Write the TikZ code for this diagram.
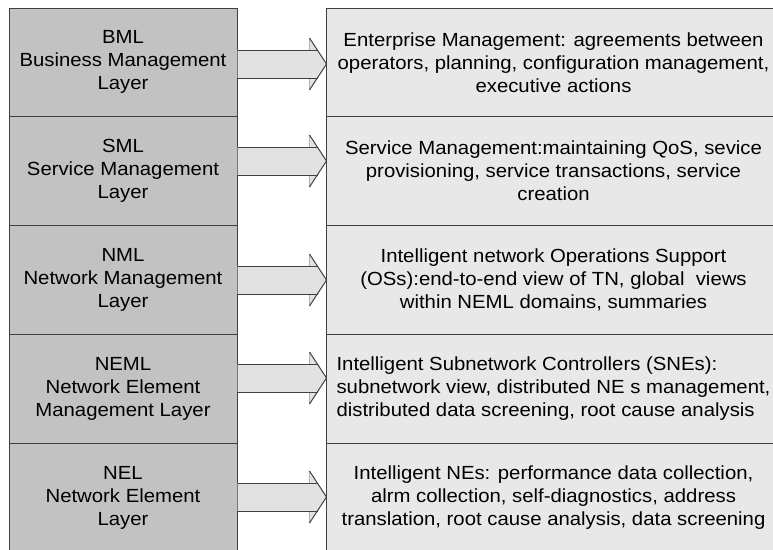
\documentclass[tikz,border=0pt]{standalone}
\usepackage{fontspec}
\setmainfont[FakeStretch=1.07]{Liberation Sans}
\usetikzlibrary{calc}
\definecolor{leftfill}{HTML}{C2C2C2}
\definecolor{rightfill}{HTML}{E8E8E8}
\definecolor{arrowfill}{HTML}{E2E2E2}
\definecolor{edge}{HTML}{404040}
\definecolor{faint}{HTML}{B0B0B0}
\tikzset{
  layerbox/.style={draw=edge, line width=1pt, fill=leftfill, minimum width=228pt, minimum height=108.8pt, inner sep=0pt, align=center, font=\fontsize{19}{23}\selectfont},
  descbox/.style={draw=edge, line width=1pt, fill=rightfill, minimum width=455pt, minimum height=108.8pt, inner sep=0pt, align=center, font=\fontsize{19}{23}\selectfont},
  arrowline/.style={draw=edge, line width=1pt},
}
\newcommand\layerarrow[2]{% #1 row index, #2 y of arrow axis
  \coordinate (s#1) at ($(L#1.east |- 0,#2)$);
  \coordinate (t#1) at ($(R#1.west |- 0,#2)+(1,0)$);
  \fill[arrowfill] ($(s#1)+(0,-14)$) -- ($(t#1)+(-17,-14)$) -- ($(t#1)+(-17,-26)$) -- (t#1) -- ($(t#1)+(-17,26)$) -- ($(t#1)+(-17,14)$) -- ($(s#1)+(0,14)$) -- cycle;
  \draw[faint, line width=0.8pt] ($(t#1)+(-17,-14)$) -- ($(t#1)+(-17,-26)$) ($(t#1)+(-17,14)$) -- ($(t#1)+(-17,26)$);
  \draw[arrowline] ($(s#1)+(0,-14)$) -- ($(t#1)+(-9,-14)$) ($(s#1)+(0,14)$) -- ($(t#1)+(-9,14)$);
  \draw[arrowline] ($(t#1)+(-17,-26)$) -- (t#1) -- ($(t#1)+(-17,26)$);
}
\begin{document}
\begin{tikzpicture}[x=1pt,y=-1pt]
\useasboundingbox (0,0) rectangle (773,549);
\clip (0,0) rectangle (773,549);
\node[layerbox] (L1) at (123,62.4) {BML\\Business Management\\Layer};
\node[layerbox] (L2) at (123,171.2) {SML\\Service Management\\Layer};
\node[layerbox] (L3) at (123,280) {NML\\Network Management\\Layer};
\node[layerbox] (L4) at (123,388.8) {NEML\\Network Element\\Management Layer};
\node[layerbox] (L5) at (123,497.6) {NEL\\Network Element\\Layer};
\node[descbox] (R1) at (553.5,62.4) {Enterprise Management: agreements between\\operators, planning, configuration management,\\executive actions};
\node[descbox] (R2) at (553.5,171.2) {Service Management:maintaining QoS, sevice\\provisioning, service transactions, service\\creation};
\node[descbox] (R3) at (553.5,280) {Intelligent network Operations Support\\(OSs):end-to-end view of TN, global~ views\\within NEML domains, summaries};
\node[descbox, align=left] (R4) at (553.5,388.8) {Intelligent Subnetwork Controllers (SNEs):\\subnetwork view, distributed NE s management,\\distributed data screening, root cause analysis};
\node[descbox] (R5) at (553.5,497.6) {Intelligent NEs: performance data collection,\\alrm collection, self-diagnostics, address\\translation, root cause analysis, data screening};
\layerarrow{1}{64}
\layerarrow{2}{161}
\layerarrow{3}{280}
\layerarrow{4}{378}
\layerarrow{5}{497}
\end{tikzpicture}
\end{document}
